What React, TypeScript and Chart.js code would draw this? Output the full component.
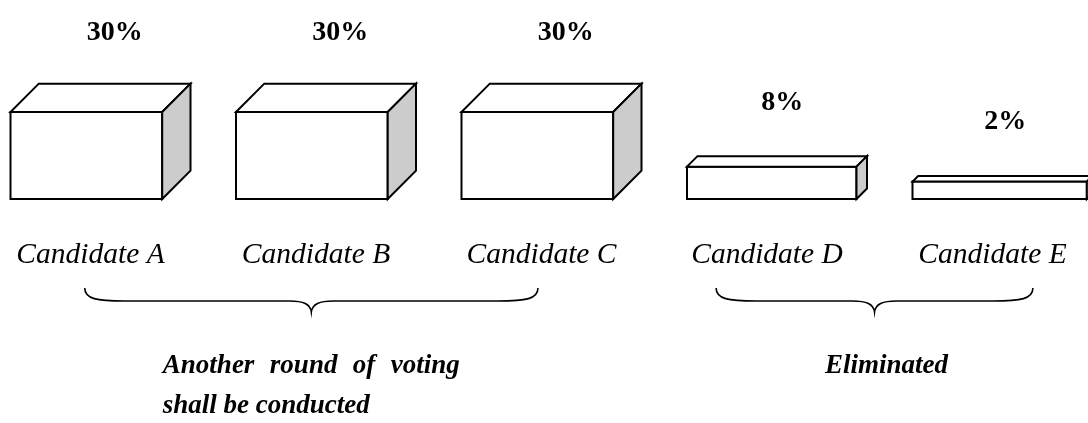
import React, { useEffect, useRef } from "react";
import { Chart, registerables } from "chart.js";

Chart.register(...registerables);

// ---- data ----
const categories = ["Candidate A", "Candidate B", "Candidate C", "Candidate D", "Candidate E"];
const shares = [30, 30, 30, 8, 2];
const groupNotes = [["Another round of voting", "shall be conducted"], ["Eliminated"]];

const SERIF = '"Liberation Serif", "Times New Roman", Times, serif';

// 3D box drawn from each bar element's geometry
const box3dPlugin = {
  id: "box3d",
  afterDatasetsDraw(chart: any) {
    const ctx = chart.ctx as CanvasRenderingContext2D;
    const meta = chart.getDatasetMeta(0);
    ctx.save();
    meta.data.forEach((el: any, i: number) => {
      const { x, y, base, width } = el.getProps(["x", "y", "base", "width"], true);
      const h = base - y;
      const d = h * 0.325;
      const x0 = x - width / 2;
      const x1 = x + width / 2 - d;
      ctx.lineWidth = 2;
      ctx.strokeStyle = "#000";
      ctx.lineJoin = "miter";
      // front face
      ctx.fillStyle = "#ffffff";
      ctx.beginPath();
      ctx.rect(x0, y, x1 - x0, h);
      ctx.fill();
      ctx.stroke();
      // top face
      ctx.beginPath();
      ctx.moveTo(x0, y);
      ctx.lineTo(x0 + d, y - d);
      ctx.lineTo(x1 + d, y - d);
      ctx.lineTo(x1, y);
      ctx.closePath();
      ctx.fill();
      ctx.stroke();
      // side face
      ctx.fillStyle = "#cccccc";
      ctx.beginPath();
      ctx.moveTo(x1, y);
      ctx.lineTo(x1 + d, y - d);
      ctx.lineTo(x1 + d, base - d);
      ctx.lineTo(x1, base);
      ctx.closePath();
      ctx.fill();
      ctx.stroke();
      // value label
      ctx.fillStyle = "#000";
      ctx.font = `bold 28px ${SERIF}`;
      ctx.textAlign = "center";
      ctx.textBaseline = "alphabetic";
      ctx.fillText(`${shares[i]}%`, x + d / 2, y - 47.7 - 0.86 * d);
    });
    ctx.restore();
  },
};

function drawBrace(ctx: CanvasRenderingContext2D, xa: number, xb: number, yTop: number, yMid: number, yTip: number) {
  const xm = (xa + xb) / 2;
  ctx.beginPath();
  ctx.moveTo(xa, yTop);
  ctx.bezierCurveTo(xa, yMid - 2, xa + 12, yMid, xa + 40, yMid);
  ctx.lineTo(xm - 22, yMid);
  ctx.bezierCurveTo(xm - 8, yMid, xm - 1, yMid + 3, xm, yTip);
  ctx.bezierCurveTo(xm + 1, yMid + 3, xm + 8, yMid, xm + 22, yMid);
  ctx.lineTo(xb - 40, yMid);
  ctx.bezierCurveTo(xb - 12, yMid, xb, yMid - 2, xb, yTop);
  ctx.stroke();
}

const bracePlugin = {
  id: "braces",
  afterDraw(chart: any) {
    const ctx = chart.ctx as CanvasRenderingContext2D;
    const xs = chart.scales.x;
    const spans = [
      [-0.07, 1.94],
      [2.73, 4.135],
    ];
    ctx.save();
    ctx.strokeStyle = "#000";
    ctx.lineWidth = 1.6;
    spans.forEach(([a, b]) => {
      drawBrace(ctx, xs.getPixelForValue(a), xs.getPixelForValue(b), 288, 301, 312);
    });
    ctx.fillStyle = "#000";
    ctx.font = `italic bold 27px ${SERIF}`;
    ctx.textBaseline = "alphabetic";
    ctx.textAlign = "left";
    // justified text block (first line stretched to the block width)
    const blockW = 297;
    const tip0 = xs.getPixelForValue((spans[0][0] + spans[0][1]) / 2);
    const left0 = tip0 - blockW / 2;
    const first = groupNotes[0][0];
    const words = first.split(" ");
    const natural = ctx.measureText(first.replace(/ /g, "")).width;
    const gap = (blockW - natural) / (words.length - 1);
    let cx = left0;
    words.forEach((w) => {
      ctx.fillText(w, cx, 373);
      cx += ctx.measureText(w).width + gap;
    });
    groupNotes[0].slice(1).forEach((line, k) => ctx.fillText(line, left0, 413 + k * 40));
    ctx.textAlign = "center";
    const tip1 = xs.getPixelForValue((spans[1][0] + spans[1][1]) / 2);
    groupNotes[1].forEach((line, k) => ctx.fillText(line, tip1 + 12, 373 + k * 40));
    ctx.restore();
  },
};

export default function App() {
  const canvasRef = useRef<HTMLCanvasElement | null>(null);

  useEffect(() => {
    if (!canvasRef.current) return;
    const chart = new Chart(canvasRef.current, {
      type: "bar",
      data: {
        datasets: [
          {
            data: shares.map((v, i) => ({ x: i, y: v })),
            base: -5,
            barThickness: 180,
            backgroundColor: "rgba(0,0,0,0)",
            borderWidth: 0,
          } as any,
        ],
      },
      options: {
        animation: false,
        responsive: true,
        maintainAspectRatio: false,
        layout: { padding: 0 },
        plugins: {
          legend: { display: false },
          tooltip: { enabled: false },
        },
        scales: {
          x: {
            type: "linear",
            offset: false,
            min: -0.4457,
            max: 4.3792,
            grid: { display: false, drawTicks: false, offset: false },
            border: { display: false },
            afterBuildTicks: (s: any) => {
              s.ticks = categories.map((_, i) => ({ value: i }));
            },
            afterFit: (s: any) => {
              s.height = 224;
            },
            ticks: {
              callback: (v: any) => categories[v as number] ?? "",
              color: "#000",
              font: { family: SERIF, size: 29.5, style: "italic", lineHeight: "112px" },
              padding: 0,
              labelOffset: -10,
              maxRotation: 0,
              autoSkip: false,
            },
          },
          y: {
            display: false,
            min: -5,
            max: 75,
          },
        },
      },
      plugins: [box3dPlugin, bracePlugin],
    });
    return () => chart.destroy();
  }, []);

  return (
    <div style={{ position: "fixed", left: 0, top: 0, width: 1088, height: 423, background: "#fff" }}>
      <canvas ref={canvasRef} />
    </div>
  );
}
